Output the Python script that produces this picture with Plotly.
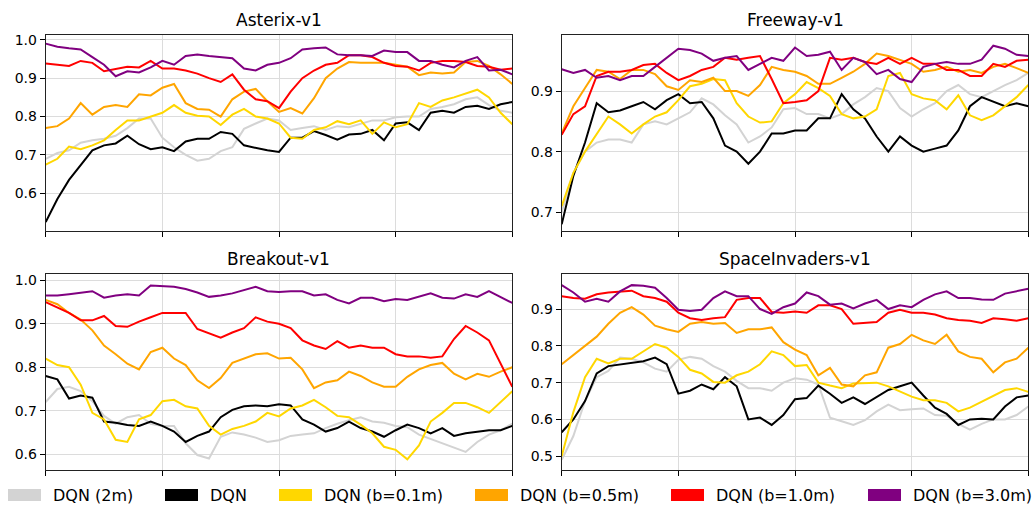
import plotly.graph_objects as go

W, H = 1036, 508

# Training progress index (41 evaluation points per run)
steps = list(range(41))

labels = ["DQN (2m)", "DQN", "DQN (b=0.1m)", "DQN (b=0.5m)", "DQN (b=1.0m)", "DQN (b=3.0m)"]
colors = ["#d3d3d3", "#000000", "#ffd700", "#ffa500", "#ff0000", "#800080"]
games = ["Asterix-v1", "Freeway-v1", "Breakout-v1", "SpaceInvaders-v1"]

# ---------------- Asterix-v1 ----------------
asterix_2m = [0.69, 0.705, 0.712, 0.732, 0.738, 0.742, 0.75, 0.77, 0.795, 0.795, 0.745, 0.72, 0.70, 0.685,
              0.69, 0.71, 0.72, 0.768, 0.782, 0.795, 0.79, 0.765, 0.77, 0.775, 0.765, 0.775, 0.772, 0.78,
              0.79, 0.79, 0.798, 0.80, 0.80, 0.82, 0.825, 0.832, 0.845, 0.85, 0.83, 0.815, 0.81]
asterix_dqn = [0.525, 0.585, 0.635, 0.675, 0.712, 0.725, 0.73, 0.75, 0.728, 0.715, 0.72, 0.71, 0.735, 0.742,
               0.742, 0.76, 0.755, 0.725, 0.718, 0.712, 0.708, 0.745, 0.745, 0.762, 0.752, 0.74, 0.753, 0.755,
               0.765, 0.738, 0.782, 0.785, 0.765, 0.81, 0.815, 0.81, 0.825, 0.828, 0.82, 0.832, 0.838]
asterix_b01 = [0.675, 0.69, 0.722, 0.715, 0.725, 0.738, 0.765, 0.79, 0.79, 0.80, 0.81, 0.83, 0.81, 0.802,
               0.80, 0.778, 0.805, 0.82, 0.80, 0.795, 0.782, 0.745, 0.742, 0.765, 0.772, 0.788, 0.78, 0.79,
               0.755, 0.785, 0.772, 0.78, 0.835, 0.825, 0.842, 0.85, 0.86, 0.87, 0.85, 0.81, 0.78]
asterix_b05 = [0.77, 0.775, 0.795, 0.835, 0.805, 0.825, 0.83, 0.825, 0.858, 0.855, 0.875, 0.885, 0.835, 0.82,
               0.818, 0.80, 0.845, 0.865, 0.872, 0.84, 0.812, 0.822, 0.808, 0.848, 0.90, 0.925, 0.942, 0.94,
               0.94, 0.94, 0.935, 0.93, 0.908, 0.915, 0.912, 0.915, 0.942, 0.945, 0.932, 0.91, 0.885]
asterix_b10 = [0.938, 0.935, 0.932, 0.945, 0.94, 0.918, 0.925, 0.93, 0.928, 0.945, 0.925, 0.925, 0.92, 0.912,
               0.90, 0.89, 0.91, 0.87, 0.845, 0.84, 0.822, 0.865, 0.90, 0.92, 0.935, 0.94, 0.96, 0.96,
               0.955, 0.94, 0.932, 0.93, 0.92, 0.94, 0.945, 0.945, 0.942, 0.932, 0.93, 0.922, 0.925]
asterix_b30 = [0.99, 0.982, 0.978, 0.975, 0.955, 0.935, 0.905, 0.918, 0.915, 0.928, 0.945, 0.935, 0.958, 0.962,
               0.958, 0.955, 0.952, 0.925, 0.92, 0.935, 0.94, 0.952, 0.975, 0.978, 0.98, 0.962, 0.96, 0.96,
               0.958, 0.972, 0.968, 0.968, 0.945, 0.945, 0.935, 0.928, 0.945, 0.955, 0.92, 0.922, 0.91]

# ---------------- Freeway-v1 ----------------
freeway_2m = [0.70, 0.765, 0.80, 0.815, 0.82, 0.82, 0.815, 0.845, 0.85, 0.845, 0.855, 0.865, 0.888, 0.878,
              0.86, 0.845, 0.815, 0.825, 0.84, 0.87, 0.872, 0.862, 0.862, 0.855, 0.862, 0.878, 0.89, 0.905,
              0.90, 0.872, 0.858, 0.87, 0.88, 0.90, 0.91, 0.895, 0.89, 0.90, 0.91, 0.918, 0.93]
freeway_dqn = [0.68, 0.76, 0.815, 0.88, 0.865, 0.868, 0.875, 0.882, 0.87, 0.885, 0.895, 0.88, 0.882, 0.855,
               0.81, 0.80, 0.78, 0.80, 0.83, 0.83, 0.835, 0.835, 0.855, 0.855, 0.895, 0.87, 0.855, 0.825,
               0.80, 0.825, 0.81, 0.80, 0.805, 0.81, 0.835, 0.875, 0.89, 0.882, 0.875, 0.88, 0.875]
freeway_b01 = [0.71, 0.765, 0.80, 0.83, 0.858, 0.845, 0.83, 0.845, 0.858, 0.865, 0.885, 0.908, 0.912, 0.92,
               0.918, 0.88, 0.858, 0.848, 0.85, 0.88, 0.895, 0.915, 0.905, 0.892, 0.862, 0.855, 0.858, 0.87,
               0.925, 0.93, 0.895, 0.888, 0.885, 0.87, 0.893, 0.86, 0.852, 0.86, 0.875, 0.89, 0.91]
freeway_b05 = [0.83, 0.875, 0.905, 0.935, 0.932, 0.92, 0.935, 0.935, 0.928, 0.908, 0.902, 0.918, 0.915, 0.922,
               0.90, 0.90, 0.892, 0.91, 0.94, 0.935, 0.932, 0.925, 0.912, 0.912, 0.922, 0.932, 0.945, 0.962,
               0.958, 0.952, 0.945, 0.932, 0.935, 0.94, 0.932, 0.935, 0.93, 0.94, 0.945, 0.938, 0.93]
freeway_b10 = [0.828, 0.862, 0.875, 0.925, 0.932, 0.932, 0.935, 0.943, 0.945, 0.93, 0.918, 0.925, 0.935, 0.94,
               0.955, 0.952, 0.955, 0.958, 0.92, 0.88, 0.882, 0.885, 0.90, 0.955, 0.952, 0.955, 0.948, 0.945,
               0.955, 0.945, 0.955, 0.945, 0.945, 0.935, 0.935, 0.925, 0.925, 0.945, 0.94, 0.95, 0.952]
freeway_b30 = [0.936, 0.93, 0.935, 0.922, 0.925, 0.918, 0.925, 0.925, 0.94, 0.955, 0.97, 0.968, 0.962, 0.95,
               0.955, 0.958, 0.935, 0.945, 0.955, 0.95, 0.972, 0.958, 0.96, 0.965, 0.935, 0.955, 0.948, 0.928,
               0.935, 0.92, 0.915, 0.94, 0.945, 0.948, 0.945, 0.945, 0.952, 0.975, 0.97, 0.96, 0.958]

# ---------------- Breakout-v1 ----------------
breakout_2m = [0.72, 0.75, 0.755, 0.745, 0.722, 0.688, 0.67, 0.685, 0.69, 0.67, 0.665, 0.665, 0.625, 0.598,
               0.59, 0.64, 0.65, 0.645, 0.638, 0.628, 0.632, 0.642, 0.645, 0.648, 0.66, 0.67, 0.678, 0.685,
               0.675, 0.672, 0.665, 0.662, 0.645, 0.635, 0.625, 0.615, 0.605, 0.628, 0.645, 0.655, 0.67]
breakout_dqn = [0.78, 0.772, 0.728, 0.735, 0.73, 0.675, 0.672, 0.667, 0.665, 0.675, 0.665, 0.652, 0.628, 0.642,
                0.652, 0.685, 0.702, 0.71, 0.712, 0.71, 0.715, 0.712, 0.68, 0.668, 0.652, 0.66, 0.675, 0.66,
                0.652, 0.64, 0.655, 0.668, 0.66, 0.648, 0.66, 0.642, 0.648, 0.652, 0.655, 0.655, 0.665]
breakout_b01 = [0.82, 0.805, 0.80, 0.76, 0.695, 0.68, 0.633, 0.628, 0.68, 0.69, 0.722, 0.725, 0.71, 0.705,
                0.665, 0.645, 0.658, 0.665, 0.675, 0.695, 0.687, 0.705, 0.712, 0.725, 0.708, 0.688, 0.685, 0.668,
                0.648, 0.617, 0.61, 0.588, 0.62, 0.675, 0.695, 0.718, 0.718, 0.708, 0.695, 0.72, 0.745]
breakout_b05 = [0.955, 0.945, 0.925, 0.91, 0.885, 0.85, 0.83, 0.808, 0.795, 0.835, 0.845, 0.82, 0.805, 0.77,
                0.752, 0.775, 0.81, 0.82, 0.83, 0.832, 0.82, 0.822, 0.795, 0.752, 0.765, 0.77, 0.79, 0.78,
                0.765, 0.755, 0.755, 0.778, 0.795, 0.805, 0.81, 0.785, 0.772, 0.785, 0.778, 0.79, 0.80]
breakout_b10 = [0.95, 0.938, 0.925, 0.908, 0.908, 0.918, 0.895, 0.893, 0.905, 0.915, 0.925, 0.925, 0.925, 0.888,
                0.878, 0.868, 0.88, 0.89, 0.915, 0.905, 0.90, 0.89, 0.862, 0.85, 0.842, 0.86, 0.845, 0.85,
                0.845, 0.845, 0.83, 0.825, 0.825, 0.822, 0.825, 0.865, 0.895, 0.88, 0.862, 0.81, 0.755]
breakout_b30 = [0.965, 0.965, 0.968, 0.972, 0.975, 0.96, 0.965, 0.968, 0.965, 0.988, 0.987, 0.985, 0.98, 0.972,
                0.962, 0.965, 0.97, 0.977, 0.985, 0.975, 0.973, 0.975, 0.975, 0.965, 0.968, 0.955, 0.947, 0.96,
                0.96, 0.952, 0.957, 0.955, 0.962, 0.97, 0.96, 0.958, 0.968, 0.962, 0.975, 0.962, 0.948]

# ---------------- SpaceInvaders-v1 ----------------
invaders_2m = [0.49, 0.555, 0.65, 0.715, 0.732, 0.768, 0.765, 0.755, 0.738, 0.73, 0.762, 0.77, 0.765, 0.745,
               0.73, 0.705, 0.685, 0.685, 0.678, 0.70, 0.712, 0.708, 0.695, 0.605, 0.595, 0.585, 0.598, 0.622,
               0.64, 0.625, 0.628, 0.63, 0.612, 0.61, 0.588, 0.572, 0.588, 0.60, 0.60, 0.612, 0.635]
invaders_dqn = [0.565, 0.60, 0.65, 0.725, 0.745, 0.75, 0.755, 0.758, 0.768, 0.75, 0.67, 0.678, 0.695, 0.682,
                0.715, 0.69, 0.60, 0.605, 0.585, 0.612, 0.655, 0.658, 0.692, 0.67, 0.645, 0.66, 0.642, 0.66,
                0.68, 0.69, 0.70, 0.665, 0.632, 0.615, 0.585, 0.60, 0.602, 0.60, 0.635, 0.66, 0.665]
invaders_b01 = [0.50, 0.62, 0.715, 0.765, 0.752, 0.765, 0.765, 0.785, 0.805, 0.795, 0.77, 0.735, 0.725, 0.702,
                0.70, 0.72, 0.73, 0.75, 0.785, 0.775, 0.745, 0.748, 0.70, 0.692, 0.685, 0.698, 0.70, 0.70,
                0.69, 0.675, 0.662, 0.652, 0.652, 0.645, 0.622, 0.632, 0.648, 0.665, 0.68, 0.685, 0.675]
invaders_b05 = [0.75, 0.775, 0.80, 0.825, 0.86, 0.89, 0.905, 0.885, 0.855, 0.845, 0.838, 0.86, 0.865, 0.86,
                0.862, 0.835, 0.845, 0.845, 0.85, 0.81, 0.79, 0.775, 0.72, 0.74, 0.695, 0.69, 0.72, 0.728,
                0.795, 0.805, 0.83, 0.815, 0.805, 0.83, 0.785, 0.77, 0.765, 0.728, 0.755, 0.765, 0.795]
invaders_b10 = [0.935, 0.93, 0.928, 0.94, 0.945, 0.948, 0.95, 0.935, 0.93, 0.92, 0.89, 0.875, 0.87, 0.875,
                0.878, 0.925, 0.93, 0.93, 0.892, 0.89, 0.893, 0.89, 0.91, 0.91, 0.90, 0.86, 0.862, 0.865,
                0.89, 0.898, 0.89, 0.89, 0.885, 0.875, 0.87, 0.868, 0.862, 0.875, 0.872, 0.868, 0.875]
invaders_b30 = [0.965, 0.945, 0.92, 0.928, 0.92, 0.948, 0.965, 0.963, 0.958, 0.93, 0.898, 0.895, 0.898, 0.93,
                0.948, 0.935, 0.935, 0.90, 0.887, 0.905, 0.915, 0.945, 0.935, 0.912, 0.915, 0.902, 0.915, 0.925,
                0.90, 0.91, 0.905, 0.925, 0.94, 0.948, 0.93, 0.93, 0.926, 0.925, 0.942, 0.948, 0.955]

panel_series = [
    [asterix_2m, asterix_dqn, asterix_b01, asterix_b05, asterix_b10, asterix_b30],
    [freeway_2m, freeway_dqn, freeway_b01, freeway_b05, freeway_b10, freeway_b30],
    [breakout_2m, breakout_dqn, breakout_b01, breakout_b05, breakout_b10, breakout_b30],
    [invaders_2m, invaders_dqn, invaders_b01, invaders_b05, invaders_b10, invaders_b30],
]

# y-axis limits and tick values per panel
y_ranges = [[0.502, 1.013], [0.669, 0.993], [0.563, 1.0144], [0.462, 0.995]]
y_ticks = [[0.6, 0.7, 0.8, 0.9, 1.0], [0.7, 0.8, 0.9], [0.6, 0.7, 0.8, 0.9, 1.0], [0.5, 0.6, 0.7, 0.8, 0.9]]

# panel boxes in pixels: (left, right, top, bottom)
boxes = [(45.7, 512.3, 32.0, 229.3), (561.7, 1028.3, 32.0, 229.3),
         (45.7, 512.3, 272.7, 470.0), (561.7, 1028.3, 272.7, 470.0)]

FONT = "DejaVu Sans"
fig = go.Figure()

for p in range(4):
    xa = "x" if p == 0 else f"x{p + 1}"
    ya = "y" if p == 0 else f"y{p + 1}"
    for s in range(6):
        fig.add_trace(go.Scatter(
            x=steps, y=panel_series[p][s], mode="lines",
            line=dict(color=colors[s], width=2),
            name=labels[s], showlegend=False,
            xaxis=xa, yaxis=ya,
        ))

layout = dict(
    width=W, height=H,
    margin=dict(l=0, r=0, t=0, b=0),
    paper_bgcolor="white", plot_bgcolor="white",
    font=dict(family=FONT, size=14, color="black"),
    showlegend=False,
)

annotations = []
shapes = []
for p, (l, r, t, b) in enumerate(boxes):
    key = "" if p == 0 else str(p + 1)
    xdom = [l / W, r / W]
    ydom = [1 - b / H, 1 - t / H]
    layout["xaxis" + key] = dict(
        domain=xdom, range=[0, 40], anchor="y" + key,
        tickvals=[0, 10, 20, 30, 40], showticklabels=False,
        ticks="outside", ticklen=5, tickwidth=1, tickcolor="black",
        showgrid=True, gridcolor="#dcdcdc", gridwidth=1,
        showline=True, linecolor="#222222", linewidth=1, mirror=True,
        zeroline=False, fixedrange=True,
    )
    layout["yaxis" + key] = dict(
        domain=ydom, range=y_ranges[p], anchor="x" + key,
        tickvals=y_ticks[p], ticktext=[f"{v:.1f}" for v in y_ticks[p]],
        ticks="outside", ticklen=5, tickwidth=1, tickcolor="black",
        tickfont=dict(family=FONT, size=14, color="black"),
        showgrid=True, gridcolor="#dcdcdc", gridwidth=1,
        showline=True, linecolor="#222222", linewidth=1, mirror=True,
        zeroline=False, fixedrange=True,
    )
    annotations.append(dict(
        text=games[p], x=(xdom[0] + xdom[1]) / 2, y=ydom[1],
        xref="paper", yref="paper", xanchor="center", yanchor="bottom",
        yshift=3, showarrow=False,
        font=dict(family=FONT, size=17, color="black"),
    ))

# Legend row along the bottom edge: colour patch followed by its label
legend_patch_left = [8, 165, 279, 475, 671, 868]
patch_w, patch_h, legend_y = 33, 12, 495
for s in range(6):
    x0 = legend_patch_left[s]
    shapes.append(dict(
        type="rect", xref="paper", yref="paper",
        x0=x0 / W, x1=(x0 + patch_w) / W,
        y0=1 - (legend_y + patch_h / 2) / H, y1=1 - (legend_y - patch_h / 2) / H,
        fillcolor=colors[s], line=dict(width=0),
    ))
    annotations.append(dict(
        text=labels[s], x=(x0 + patch_w + 10) / W, y=1 - legend_y / H,
        xref="paper", yref="paper", xanchor="left", yanchor="middle",
        showarrow=False, font=dict(family=FONT, size=16, color="black"),
    ))

layout["annotations"] = annotations
layout["shapes"] = shapes
fig.update_layout(**layout)

fig.write_html("out.html")
